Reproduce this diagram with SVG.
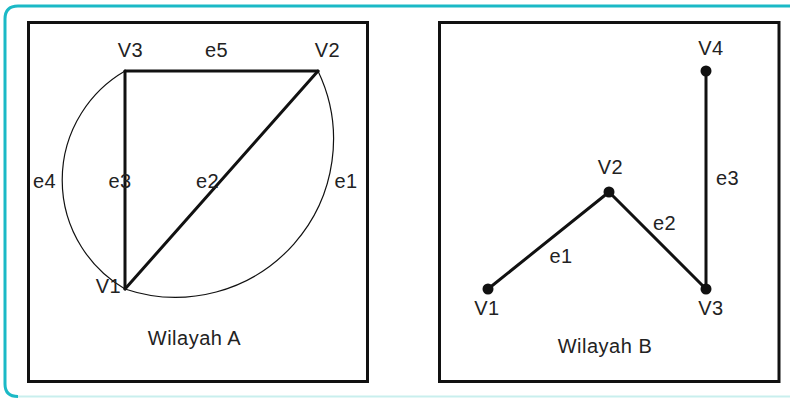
<svg xmlns="http://www.w3.org/2000/svg" width="790" height="398" viewBox="0 0 790 398">
<style>
.frame{fill:none;stroke:#111;stroke-width:3}
.edge{fill:none;stroke:#111;stroke-width:3;stroke-linecap:round}
.arc{fill:none;stroke:#111;stroke-width:1.2}
.dot{fill:#111}
text{font-family:"Liberation Sans",Arial,sans-serif;font-size:20px;letter-spacing:0.5px;fill:#222;text-anchor:middle}
</style>
<rect width="790" height="398" fill="#fff"/>
<path d="M800,6 H18 Q5,6 5,19 V384 Q5,396.5 18,396.5" fill="none" stroke="#1bb9c6" stroke-width="3"/>
<line x1="18" y1="396.5" x2="790" y2="396.5" stroke="#c9efee" stroke-width="2"/>
<g id="wilayah-a">
<rect class="frame" x="28.5" y="22.5" width="339" height="359"/>
<g id="a-connectors">
<path class="arc" d="M125,71 A126,126 0 0 0 125,289"/>
<path class="arc" d="M318,71 A158,158 0 0 1 125,289"/>
<line class="edge" x1="125" y1="71" x2="318" y2="71"/>
<line class="edge" x1="125" y1="71" x2="125" y2="289"/>
<line class="edge" x1="125" y1="289" x2="318" y2="71"/>
</g>
<g id="a-v3"><text x="130.5" y="57">V3</text></g>
<g id="a-v2"><text x="327.5" y="57">V2</text></g>
<g id="a-v1"><text x="108.5" y="293">V1</text></g>
<text x="216.5" y="57">e5</text>
<text x="44.5" y="188">e4</text>
<text x="120" y="188">e3</text>
<text x="207.5" y="188">e2</text>
<text x="346" y="188">e1</text>
<text x="194.5" y="345">Wilayah A</text>
</g>
<g id="wilayah-b">
<rect class="frame" x="439.5" y="22.5" width="339.5" height="359"/>
<g id="b-connectors">
<line class="edge" x1="488" y1="289" x2="609" y2="192"/>
<line class="edge" x1="609" y1="192" x2="706" y2="289"/>
<line class="edge" x1="706" y1="71" x2="706" y2="289"/>
</g>
<g id="b-v1"><circle class="dot" cx="488" cy="289" r="5.5"/><text x="487" y="315">V1</text></g>
<g id="b-v2"><circle class="dot" cx="609" cy="192" r="5.5"/><text x="610.5" y="174">V2</text></g>
<g id="b-v3"><circle class="dot" cx="706" cy="289" r="5.5"/><text x="711" y="315">V3</text></g>
<g id="b-v4"><circle class="dot" cx="706" cy="71" r="5.5"/><text x="711" y="55">V4</text></g>
<text x="561" y="263">e1</text>
<text x="664.5" y="230">e2</text>
<text x="727.5" y="185">e3</text>
<text x="605" y="353">Wilayah B</text>
</g>
</svg>
